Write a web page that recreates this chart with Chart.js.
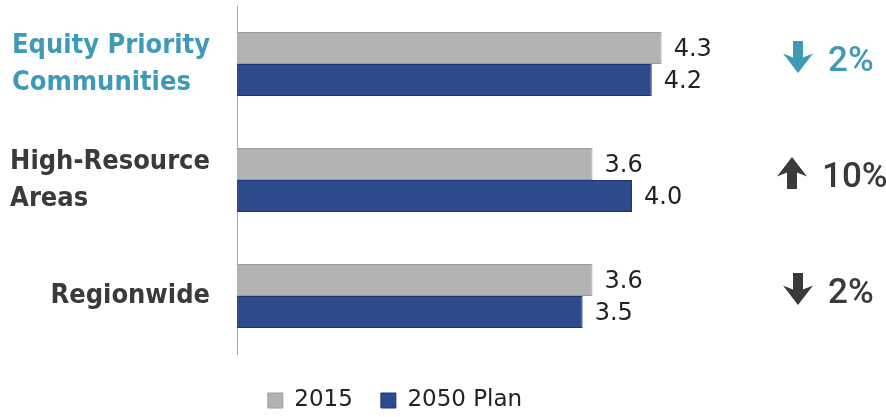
<!DOCTYPE html>
<html>
<head>
<meta charset="utf-8">
<script src="https://cdn.jsdelivr.net/npm/chart.js@4/dist/chart.umd.min.js"></script>
<style>
  html, body { margin: 0; padding: 0; background: #ffffff; }
  #wrap { width: 886px; height: 417px; position: relative; }
</style>
</head>
<body>
<div id="wrap"><canvas id="c"></canvas></div>
<script>
// ---- data ----
const categories = [["Equity Priority", "Communities"], ["High-Resource", "Areas"], ["Regionwide"]];
const categoryColors = ["#3f9ab8", "#3a3a3a", "#3a3a3a"];
const seriesNames = ["2015", "2050 Plan"];
const values2015 = [4.3, 3.6, 3.6];
const values2050 = [4.2, 4.0, 3.5];
const changeLabels = ["2%", "10%", "2%"];
const changeDirections = ["down", "up", "down"];

const FONT = "'DejaVu Sans', sans-serif";

const categoryLabelPlugin = {
  id: 'categoryLabels',
  afterDraw(chart) {
    const ctx = chart.ctx;
    const y = chart.scales.y;
    const rightEdge = chart.chartArea.left - 27;
    const lineH = 37;
    ctx.save();
    ctx.font = "bold 27px 'DejaVu Sans Condensed', 'DejaVu Sans', sans-serif";
    ctx.textAlign = 'left';
    ctx.textBaseline = 'middle';
    categories.forEach((lines, i) => {
      const cy = y.getPixelForValue(i);
      const maxW = Math.max(...lines.map(l => ctx.measureText(l).width));
      const x0 = rightEdge - maxW;
      ctx.fillStyle = categoryColors[i];
      lines.forEach((l, k) => {
        const ly = cy + (k - (lines.length - 1) / 2) * lineH;
        ctx.fillText(l, x0, ly);
      });
    });
    ctx.restore();
  }
};

const valueLabelPlugin = {
  id: 'valueLabels',
  afterDatasetsDraw(chart) {
    const ctx = chart.ctx;
    ctx.save();
    ctx.font = "24px " + FONT;
    ctx.fillStyle = '#222222';
    ctx.textAlign = 'left';
    ctx.textBaseline = 'middle';
    chart.data.datasets.forEach((ds, di) => {
      const meta = chart.getDatasetMeta(di);
      meta.data.forEach((bar, i) => {
        ctx.fillText(ds.data[i].toFixed(1), bar.x + 12, bar.y + 1.5);
      });
    });
    ctx.restore();
  }
};

const changePlugin = {
  id: 'changeMarkers',
  afterDraw(chart) {
    const ctx = chart.ctx;
    const y = chart.scales.y;
    const right = chart.chartArea.right;
    ctx.save();
    changeLabels.forEach((txt, i) => {
      const cy = y.getPixelForValue(i);
      const color = categoryColors[i];
      const dir = changeDirections[i];
      const tx = right + (txt.length > 2 ? 32 : 38);
      // arrow
      const ax = tx - 30;
      const top = cy - 23, bot = cy + 9;
      const sw = 5, hw = 15, H = bot - top;
      ctx.fillStyle = color;
      ctx.beginPath();
      if (dir === 'down') {
        const j = top + H * 0.45;
        ctx.moveTo(ax - sw, top);
        ctx.lineTo(ax + sw, top);
        ctx.lineTo(ax + sw, j + 2);
        ctx.lineTo(ax + hw, j - 2);
        ctx.lineTo(ax, bot);
        ctx.lineTo(ax - hw, j - 2);
        ctx.lineTo(ax - sw, j + 2);
      } else {
        const j = bot - H * 0.45;
        ctx.moveTo(ax - sw, bot);
        ctx.lineTo(ax + sw, bot);
        ctx.lineTo(ax + sw, j - 2);
        ctx.lineTo(ax + hw, j + 2);
        ctx.lineTo(ax, top);
        ctx.lineTo(ax - hw, j + 2);
        ctx.lineTo(ax - sw, j - 2);
      }
      ctx.closePath();
      ctx.fill();
      // text
      ctx.font = "500 35px Roboto, sans-serif";
      ctx.textAlign = 'left';
      ctx.textBaseline = 'alphabetic';
      ctx.fillText(txt, tx, cy + 7);
    });
    ctx.restore();
  }
};

new Chart(document.getElementById('c'), {
  type: 'bar',
  data: {
    labels: categories,
    datasets: [
      { label: seriesNames[0], data: values2015, backgroundColor: '#b3b3b3', borderColor: '#9c9c9c', borderWidth: 1, categoryPercentage: 0.55, barPercentage: 1.0 },
      { label: seriesNames[1], data: values2050, backgroundColor: '#2d4a8d', borderColor: '#1d3576', borderWidth: 1, categoryPercentage: 0.55, barPercentage: 1.0 }
    ]
  },
  options: {
    indexAxis: 'y',
    responsive: true,
    maintainAspectRatio: false,
    animation: false,
    layout: { padding: { top: 6, right: 96, bottom: -5, left: 0 } },
    scales: {
      x: {
        min: 0, max: 5.6,
        display: true,
        grid: { display: false },
        border: { display: false },
        ticks: { display: false },
        afterFit: s => { s.height = 7; }
      },
      y: {
        grid: { display: false },
        border: { display: true, color: '#a8a8a8', width: 1 },
        ticks: { display: false },
        afterFit: s => { s.width = 237; }
      }
    },
    plugins: {
      legend: {
        position: 'bottom',
        align: 'center',
        labels: {
          boxWidth: 15, boxHeight: 15, padding: 28,
          color: '#222222',
          font: { family: FONT, size: 23 }
        }
      },
      tooltip: { enabled: false }
    }
  },
  plugins: [categoryLabelPlugin, valueLabelPlugin, changePlugin]
});
</script>
</body>
</html>
